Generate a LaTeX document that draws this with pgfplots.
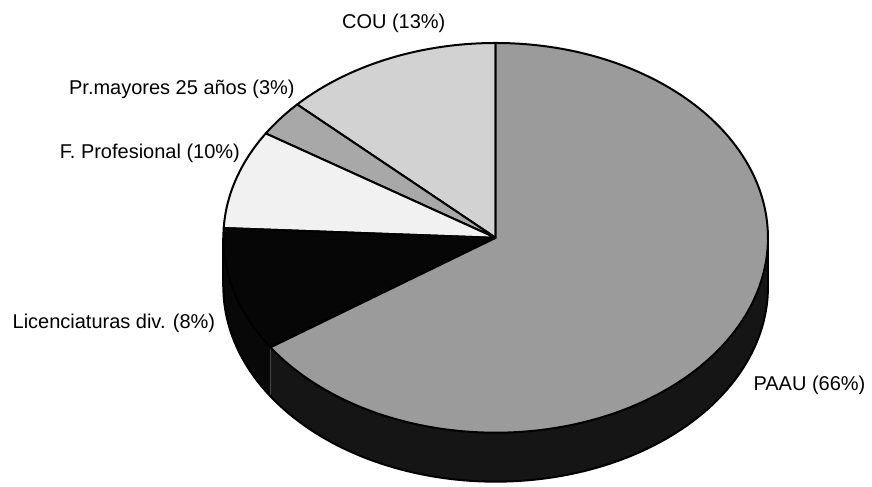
\documentclass[border=0pt]{standalone}
\usepackage{pgfplots}
\usepackage{pgfplotstable}
\pgfplotsset{compat=1.18}
\usepackage{fontspec}
\setmainfont{Liberation Sans}

\definecolor{cPAAU}{HTML}{9B9B9B}
\definecolor{cCOU}{HTML}{D2D2D2}
\definecolor{cPR}{HTML}{A8A8A8}
\definecolor{cFP}{HTML}{F1F1F1}
\definecolor{cLIC}{HTML}{060606}
\definecolor{sPAAU}{HTML}{151515}
\definecolor{sLIC}{HTML}{080808}

% slice shares (percent of the full circle), counter-clockwise from the top
\pgfplotstableread{
label value
COU 13.0
Pr 3.0
FP 8.2
Lic 10.3
PAAU 65.5
}\pietable

\begin{document}%
\begin{tikzpicture}
\pgfplotstablegetelem{0}{value}\of\pietable \let\vCOU\pgfplotsretval
\pgfplotstablegetelem{1}{value}\of\pietable \let\vPR\pgfplotsretval
\pgfplotstablegetelem{2}{value}\of\pietable \let\vFP\pgfplotsretval
\pgfplotstablegetelem{3}{value}\of\pietable \let\vLIC\pgfplotsretval
\pgfplotstablegetelem{4}{value}\of\pietable \let\vPAAU\pgfplotsretval
\pgfmathsetmacro\aA{90}
\pgfmathsetmacro\aB{\aA+3.6*\vCOU}
\pgfmathsetmacro\aC{\aB+3.6*\vPR}
\pgfmathsetmacro\aD{\aC+3.6*\vFP}
\pgfmathsetmacro\aE{\aD+3.6*\vLIC}
\pgfmathsetmacro\aF{\aE+3.6*\vPAAU}
\def\cx{496}\def\cy{238}\def\rx{272.5}\def\ry{195}\def\dep{49}
\begin{axis}[
  scale only axis, width=436pt, height=243.5pt,
  xmin=0, xmax=872, ymin=0, ymax=487, y dir=reverse,
  hide axis, clip=false,
]
\path (rel axis cs:0,0) rectangle (rel axis cs:1,1);
% sides
\addplot[fill=sPAAU, draw=none, domain=\aE:360, samples=80, variable=\t]
  ({\cx+\rx*cos(\t)},{\cy+\dep-\ry*sin(\t)})
  -- ({\cx+\rx},{\cy}) -- (\cx,\cy) -- ({\cx+\rx*cos(\aE)},{\cy-\ry*sin(\aE)}) -- cycle;
\addplot[fill=sLIC, draw=none, domain=180:\aE, samples=30, variable=\t]
  ({\cx+\rx*cos(\t)},{\cy+\dep-\ry*sin(\t)})
  -- ({\cx+\rx*cos(\aE)},{\cy-\ry*sin(\aE)}) -- (\cx,\cy) -- ({\cx-\rx},{\cy}) -- cycle;
% top faces
\addplot[fill=cCOU, draw=black, line width=1pt, line join=round, domain=\aA:\aB, samples=30, variable=\t]
  ({\cx+\rx*cos(\t)},{\cy-\ry*sin(\t)}) -- (\cx,\cy) -- cycle;
\addplot[fill=cPR, draw=black, line width=1pt, line join=round, domain=\aB:\aC, samples=10, variable=\t]
  ({\cx+\rx*cos(\t)},{\cy-\ry*sin(\t)}) -- (\cx,\cy) -- cycle;
\addplot[fill=cFP, draw=black, line width=1pt, line join=round, domain=\aC:\aD, samples=25, variable=\t]
  ({\cx+\rx*cos(\t)},{\cy-\ry*sin(\t)}) -- (\cx,\cy) -- cycle;
\addplot[fill=cLIC, draw=black, line width=1pt, line join=round, domain=\aD:\aE, samples=25, variable=\t]
  ({\cx+\rx*cos(\t)},{\cy-\ry*sin(\t)}) -- (\cx,\cy) -- cycle;
\addplot[fill=cPAAU, draw=black, line width=1pt, line join=round, domain=\aE:\aF, samples=150, variable=\t]
  ({\cx+\rx*cos(\t)},{\cy-\ry*sin(\t)}) -- (\cx,\cy) -- cycle;
% outline of the side
\addplot[draw=black, line width=1pt, domain=180:360, samples=120, variable=\t]
  ({\cx+\rx*cos(\t)},{\cy+\dep-\ry*sin(\t)});
\addplot[draw=black, line width=1pt] coordinates {(223.5,238) (223.5,287)};
\addplot[draw=black, line width=1pt] coordinates {(768.5,238) (768.5,287)};
% labels
\begingroup
\fontsize{10}{12}\selectfont
\node at (394,23) {COU (13\%)};
\node at (182,89) {Pr.mayores 25 años (3\%)};
\node at (150,153) {F. Profesional (10\%)};
\node at (114,324) {Licenciaturas div. (8\%)};
\node at (810,386) {PAAU (66\%)};
\endgroup
\end{axis}
\end{tikzpicture}%
\end{document}
